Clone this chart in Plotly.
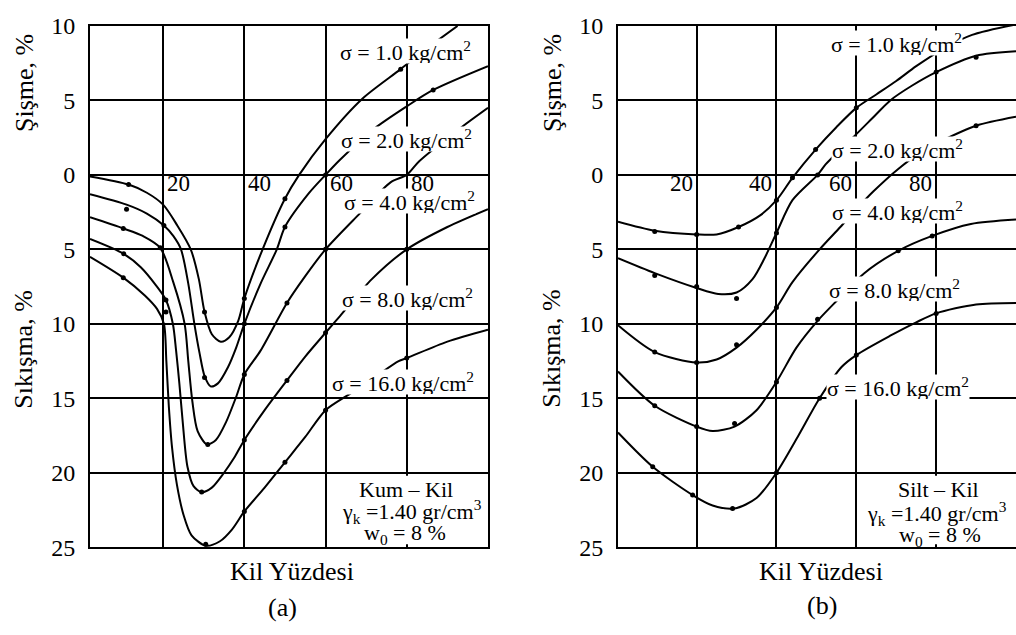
import plotly.graph_objects as go

# ---------------- data ----------------
# Panel (a)  Kum - Kil
A1_x = [2, 11.5, 16, 20, 23.5, 26.8, 28.8, 30.2, 32, 34.2, 36.3, 38.5, 40, 44.5, 50, 53.5, 60, 69, 78.5, 85, 92.5]
A1_y = [-0.1, -0.65, -1.2, -2.0, -3.4, -5.0, -7.0, -9.2, -10.7, -11.2, -10.9, -9.8, -8.3, -5.0, -1.6, 0.0, 2.4, 5.1, 7.1, 8.5, 10.0]
A2_x = [2, 11, 16, 20.2, 22.5, 24.4, 26.2, 27.7, 29, 30.2, 31.7, 33.5, 36, 38, 40, 44, 48, 50, 56, 60, 63.5, 72, 80, 86.5, 100]
A2_y = [-1.3, -2.0, -2.6, -3.4, -4.1, -5.0, -7.3, -10.0, -12.0, -13.5, -14.2, -14.0, -12.9, -11.6, -10.0, -7.3, -5.0, -3.5, -1.2, 0.0, 1.0, 3.1, 4.6, 5.7, 7.3]
A3_x = [2, 10.2, 15, 19.3, 22.5, 25.3, 26.2, 27.2, 28.5, 30.8, 33, 35.5, 38, 40, 44, 50.5, 55, 60, 68.4, 76, 80, 83, 93, 100]
A3_y = [-2.85, -3.6, -4.1, -4.9, -7.2, -10.0, -12.5, -15.2, -17.2, -18.1, -17.8, -16.6, -14.9, -13.4, -11.8, -8.6, -6.8, -5.0, -2.6, -0.5, 0.0, 0.9, 3.1, 4.5]
A4_x = [2, 10.3, 14.5, 18.2, 20.7, 22.4, 23.2, 24, 24.8, 26, 27.5, 29.5, 32, 35, 37.5, 40, 45, 50.5, 55, 60, 63.5, 71.4, 80, 90, 100]
A4_y = [-4.3, -5.3, -6.2, -7.4, -8.4, -10.0, -11.8, -14.0, -16.5, -19.6, -20.9, -21.3, -21.0, -20.0, -19.0, -17.8, -15.8, -13.8, -12.2, -10.6, -9.5, -7.0, -5.0, -3.5, -2.3]
A5_x = [2, 10.2, 15.5, 18.5, 20.2, 20.8, 21.4, 22.2, 23.4, 25, 27, 30.5, 34, 37, 40, 45, 50, 55, 60, 66, 72, 78, 80, 90, 100]
A5_y = [-5.5, -6.9, -8.1, -9.0, -10.0, -12.5, -15.5, -18.3, -20.8, -22.8, -24.2, -24.9, -24.6, -23.8, -22.6, -21.0, -19.3, -17.6, -15.8, -14.7, -13.6, -12.5, -12.3, -11.2, -10.4]

# measured points (dots), panel (a)
P_A1_x = [11.5, 30.2, 40, 50, 78.5]
P_A1_y = [-0.65, -9.2, -8.3, -1.6, 7.1]
P_A2_x = [11, 20.2, 30.2, 40, 50, 60, 86.5]
P_A2_y = [-2.3, -3.4, -13.6, -10.0, -3.5, 0.0, 5.7]
P_A3_x = [10.2, 19.3, 31, 40, 50.5, 60]
P_A3_y = [-3.6, -4.9, -18.1, -13.4, -8.6, -5.0]
P_A4_x = [10.3, 20.7, 29.5, 40, 50.5, 60, 80]
P_A4_y = [-5.3, -8.4, -21.3, -17.8, -13.8, -10.6, -5.0]
P_A5_x = [10.2, 20.7, 30.5, 40, 50, 60, 80]
P_A5_y = [-6.9, -9.2, -24.8, -22.6, -19.3, -15.8, -12.3]

# Panel (b)  Silt - Kil
B1_x = [0.3, 9.5, 20, 25, 30.5, 36, 40, 44, 49.8, 55, 60, 65, 70, 75, 82, 89, 100]
B1_y = [-3.15, -3.75, -4.0, -4.0, -3.5, -2.7, -1.7, -0.2, 1.7, 3.2, 4.5, 5.4, 6.3, 7.3, 8.5, 9.4, 10.1]
B2_x = [0.3, 9.5, 20, 25.4, 30, 34, 37, 40, 44, 50.3, 52.3, 56, 59.5, 64, 68.5, 74, 80, 90, 100]
B2_y = [-5.6, -6.6, -7.6, -8.0, -7.9, -7.0, -5.6, -3.9, -1.7, 0.0, 0.7, 1.7, 2.6, 3.8, 5.0, 6.0, 6.9, 8.0, 8.3]
B3_x = [0.3, 9.5, 20, 25, 30, 35, 40, 44, 50.8, 56, 60, 64.3, 70.5, 76, 81.5, 90, 100]
B3_y = [-10.1, -11.9, -12.6, -12.4, -11.6, -10.4, -8.9, -7.2, -5.0, -3.5, -2.3, -1.1, 0.4, 1.5, 2.3, 3.3, 3.9]
B4_x = [0.3, 9.5, 20, 24, 29.5, 35, 40, 45, 50.3, 55.3, 62, 70.5, 79, 88.7, 100]
B4_y = [-13.2, -15.5, -16.9, -17.2, -16.9, -15.8, -13.9, -11.6, -9.8, -8.4, -6.6, -5.1, -4.1, -3.3, -3.0]
B5_x = [0.3, 9, 19, 24, 29.5, 35, 40, 45.3, 50.8, 56.3, 60, 68.5, 75, 80, 90, 100]
B5_y = [-17.3, -19.6, -21.5, -22.2, -22.4, -21.7, -20.0, -17.6, -15.0, -12.9, -12.1, -10.8, -9.9, -9.3, -8.7, -8.6]

P_B1_x = [9.5, 20, 30.5, 40, 44, 49.8, 60]
P_B1_y = [-3.8, -4.0, -3.5, -1.7, -0.2, 1.7, 4.5]
P_B2_x = [9.5, 20, 30, 40, 50.3, 80, 90]
P_B2_y = [-6.75, -7.5, -8.3, -3.9, 0.0, 6.9, 7.9]
P_B3_x = [9.5, 20, 30, 40, 90]
P_B3_y = [-11.9, -12.6, -11.4, -8.9, 3.3]
P_B4_x = [9.5, 20, 29.5, 40, 50.3, 70.5, 79]
P_B4_y = [-15.5, -16.9, -16.7, -13.9, -9.7, -5.1, -4.1]
P_B5_x = [9, 19, 29, 40, 50.8, 60, 80]
P_B5_y = [-19.6, -21.5, -22.4, -20.0, -15.0, -12.1, -9.3]

Y_TICKS = [10, 5, 0, -5, -10, -15, -20, -25]
Y_TICKTEXT = ["10", "5", "0", "5", "10", "15", "20", "25"]
X_TICKS = [20, 40, 60, 80]
X_TICKTEXT = ["20", "40", "60", "80"]
SIGMA_LABELS = ["σ = 1.0 kg/cm<sup>2</sup>", "σ = 2.0 kg/cm<sup>2</sup>", "σ = 4.0 kg/cm<sup>2</sup>",
                "σ = 8.0 kg/cm<sup>2</sup>", "σ = 16.0 kg/cm<sup>2</sup>"]

# ---------------- figure ----------------
W, H = 1016, 635
FONT = "Liberation Serif, Times New Roman, Times, serif"

fig = go.Figure()

curves_a = [(A1_x, A1_y), (A2_x, A2_y), (A3_x, A3_y), (A4_x, A4_y), (A5_x, A5_y)]
dots_a = [(P_A1_x, P_A1_y), (P_A2_x, P_A2_y), (P_A3_x, P_A3_y), (P_A4_x, P_A4_y), (P_A5_x, P_A5_y)]
curves_b = [(B1_x, B1_y), (B2_x, B2_y), (B3_x, B3_y), (B4_x, B4_y), (B5_x, B5_y)]
dots_b = [(P_B1_x, P_B1_y), (P_B2_x, P_B2_y), (P_B3_x, P_B3_y), (P_B4_x, P_B4_y), (P_B5_x, P_B5_y)]

for curves, dots, xa, ya in [(curves_a, dots_a, "x", "y"), (curves_b, dots_b, "x2", "y2")]:
    for (cx, cy) in curves:
        fig.add_trace(go.Scatter(x=cx, y=cy, mode="lines", xaxis=xa, yaxis=ya,
                                 line=dict(color="black", width=2, shape="spline", smoothing=0.8),
                                 showlegend=False, hoverinfo="skip"))
    for (dx, dy) in dots:
        fig.add_trace(go.Scatter(x=dx, y=dy, mode="markers", xaxis=xa, yaxis=ya,
                                 marker=dict(color="black", size=5),
                                 showlegend=False, hoverinfo="skip"))

ytop = 1 - 13.5 / H
ybot = 1 - 557 / H

def xaxis_cfg(domain, rng, anchor):
    return dict(domain=domain, range=rng, tickvals=X_TICKS, showticklabels=False,
                showgrid=True, gridcolor="black", gridwidth=1.6, zeroline=False,
                showline=True, linecolor="black", linewidth=2, mirror=True, ticks="",
                anchor=anchor)

def yaxis_cfg(mirror, anchor):
    return dict(domain=[ybot, ytop], range=[-25, 10], tickvals=Y_TICKS, ticktext=Y_TICKTEXT,
                tickfont=dict(family=FONT, size=24, color="black"), ticklabelstandoff=8,
                showgrid=True, gridcolor="black", gridwidth=1.6, zeroline=False,
                showline=True, linecolor="black", linewidth=2, mirror=mirror, ticks="",
                anchor=anchor)

xa = xaxis_cfg([90 / W, 488 / W], [2, 100], "y")
xb = xaxis_cfg([618 / W, 1.0], [0.3, 100], "y2")
ya = yaxis_cfg(True, "x")
yb = yaxis_cfg(False, "x2")

annotations = []

def ann(text, px, py, size, **kw):
    d = dict(text=text, x=px / W, y=1 - py / H, xref="paper", yref="paper",
             xanchor="center", yanchor="middle", showarrow=False,
             font=dict(family=FONT, size=size, color="black"))
    d.update(kw)
    annotations.append(d)

# sigma labels (white boxes hide grid/curves behind them)
sig_a = [(405, 40), (406, 131), (409, 196), (407, 297), (403, 385)]
sig_b = [(896, 31), (897, 142), (897, 206), (894, 288), (898, 390)]
for lab, (px, py) in zip(SIGMA_LABELS, sig_a):
    ann(lab, px, py, 22, bgcolor="white", borderpad=0, height=24)
for lab, (px, py) in zip(SIGMA_LABELS, sig_b):
    ann(lab, px, py, 22, bgcolor="white", borderpad=0, height=24)

# x tick labels inside the plot just below the zero line
for v, t in zip(X_TICKS, X_TICKTEXT):
    annotations.append(dict(text=t, x=v, y=1 - 178 / H, xref="x", yref="paper",
                            xanchor="left", yanchor="middle", xshift=2, showarrow=False,
                            font=dict(family=FONT, size=23, color="black")))
    annotations.append(dict(text=t, x=v, y=1 - 178 / H, xref="x2", yref="paper",
                            xanchor="right", yanchor="middle", xshift=-2, showarrow=False,
                            font=dict(family=FONT, size=23, color="black")))

# soil description blocks
ann("Kum – Kil", 406, 497, 22)
ann("γ<sub>k</sub> =1.40 gr/cm<sup>3</sup>", 412, 520, 22)
ann("w<sub>0</sub> = 8 %", 405, 543, 22)
ann("Silt – Kil", 938, 497, 22)
ann("γ<sub>k</sub> =1.40 gr/cm<sup>3</sup>", 937, 522, 22)
ann("w<sub>0</sub> = 8 %", 940, 545, 22)

# axis titles
ann("Şişme, %", 24, 73, 26, textangle=-90)
ann("Sıkışma, %", 24, 351, 26, textangle=-90)
ann("Şişme, %", 552, 73, 26, textangle=-90)
ann("Sıkışma, %", 552, 350, 26, textangle=-90)
ann("Kil Yüzdesi", 292, 582, 26)
ann("Kil Yüzdesi", 821, 582, 26)
ann("(a)", 282, 620, 26)
ann("(b)", 822, 618, 26)

shapes = [
    dict(type="rect", xref="x", yref="y", x0=62, x1=99.5, y0=-24.8, y1=-20.2,
         fillcolor="white", line=dict(width=0), layer="above"),
    dict(type="rect", xref="x2", yref="y2", x0=61.5, x1=99.9, y0=-24.8, y1=-20.2,
         fillcolor="white", line=dict(width=0), layer="above"),
]

fig.update_layout(
    width=W, height=H, autosize=False,
    margin=dict(l=0, r=0, t=0, b=0),
    paper_bgcolor="white", plot_bgcolor="white",
    xaxis=xa, yaxis=ya, xaxis2=xb, yaxis2=yb,
    annotations=annotations, shapes=shapes,
    showlegend=False,
)

fig.write_html("out.html")
